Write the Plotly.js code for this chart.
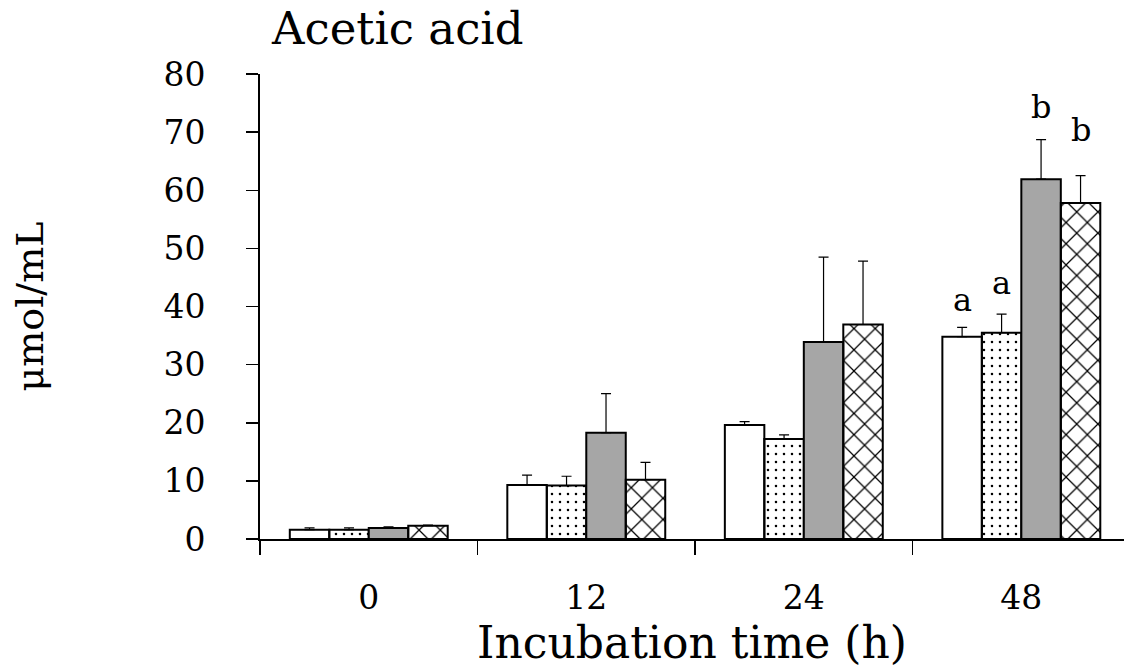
<!DOCTYPE html>
<html><head><meta charset="utf-8">
<script src="https://cdn.plot.ly/plotly-3.0.1.min.js"></script>
<style>body{margin:0;background:#fff}</style>
</head><body>
<div id="chart" style="width:1124px;height:670px"></div>
<script>
const categories = ["0", "12", "24", "48"];
const seriesNames = ["Control", "Treatment A", "Treatment B", "Treatment C"];
const valuesWhite   = [1.6, 9.3, 19.6, 34.8];
const errWhite      = [0.3, 1.7, 0.6, 1.6];
const valuesDotted  = [1.6, 9.2, 17.2, 35.5];
const errDotted     = [0.3, 1.6, 0.7, 3.2];
const valuesGray    = [1.9, 18.3, 33.9, 61.9];
const errGray       = [0.2, 6.7, 14.6, 6.8];
const valuesHatched = [2.3, 10.2, 36.9, 57.8];
const errHatched    = [0.1, 3.0, 10.9, 4.7];
const letters48 = ["a", "a", "b", "b"];
const letters48Y = [41.1, 44.0, 74.3, 70.4];

const FONT = "'DejaVu Serif', 'Liberation Serif', serif";
const bargap = 0.274;
const vals = [valuesWhite, valuesDotted, valuesGray, valuesHatched];
const errs = [errWhite, errDotted, errGray, errHatched];
const fills = ["#ffffff", "#ffffff", "#a6a6a6", "#ffffff"];
const patterns = [
  {shape: ""},
  {shape: ".", size: 8, solidity: 0.08, fgcolor: "#000"},
  {shape: ""},
  {shape: "x", size: 15, solidity: 0.16, fgcolor: "#000"}
];

const traces = vals.map((v, i) => ({
  type: "bar", name: seriesNames[i], x: categories, y: v,
  marker: {color: fills[i], line: {color: "#000", width: 2}, pattern: patterns[i]},
  error_y: {type: "data", array: errs[i], arrayminus: errs[i].map(() => 0), symmetric: false,
            color: "#000", thickness: 1.2, width: 5}
}));

const bw = (1 - bargap) / 4;
const annotations = letters48.map((t, i) => ({
  xref: "x", yref: "y", x: 3 + (i - 1.5) * bw, y: letters48Y[i],
  text: t, showarrow: false, yanchor: "middle",
  font: {family: FONT, size: 32, color: "#000"}
}));

const layout = {
  width: 1124, height: 670,
  margin: {l: 260, r: 0, t: 74, b: 131},
  paper_bgcolor: "#fff", plot_bgcolor: "#fff",
  showlegend: false, barmode: "group", bargap: bargap, bargroupgap: 0,
  title: {text: "Acetic acid", xref: "container", x: 272/1124, xanchor: "left",
          yref: "container", y: 1 - 12/670, yanchor: "top",
          font: {family: FONT, size: 45, color: "#000"}},
  xaxis: {type: "category", range: [-0.5, 3.472], tickson: "boundaries",
          ticks: "outside", ticklen: 14, tickwidth: 1.5, tickcolor: "#000",
          showline: true, linecolor: "#000", linewidth: 2, showgrid: false, zeroline: false,
          ticklabelstandoff: 28,
          tickfont: {family: FONT, size: 33, color: "#000"},
          title: {text: "Incubation time (h)", standoff: 10, font: {family: FONT, size: 44, color: "#000"}}},
  yaxis: {range: [0, 80], tickvals: [0,10,20,30,40,50,60,70,80],
          ticks: "outside", ticklen: 12, tickwidth: 1.5, tickcolor: "#000",
          showline: true, linecolor: "#000", linewidth: 2, showgrid: false, zeroline: false,
          ticklabelstandoff: 34,
          tickfont: {family: FONT, size: 33, color: "#000"},
          title: {text: "μmol/mL", standoff: 108, font: {family: FONT, size: 38, color: "#000"}}},
  annotations: annotations
};

Plotly.newPlot("chart", traces, layout, {displayModeBar: false, staticPlot: true});
</script>
</body></html>
